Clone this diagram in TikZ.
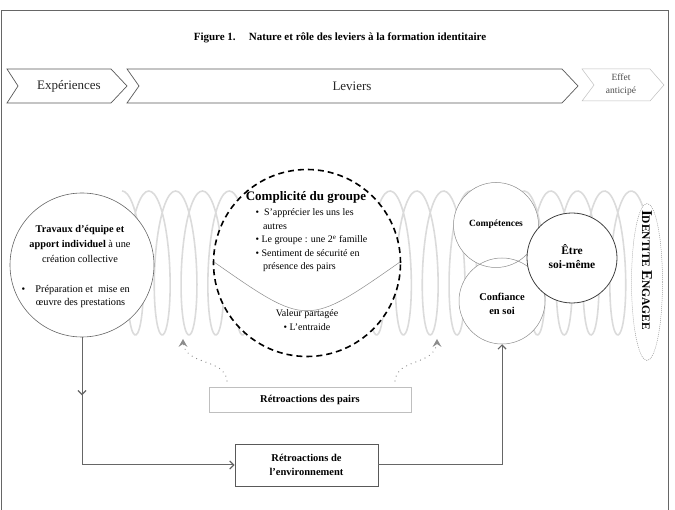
\documentclass[tikz,border=0pt]{standalone}
\usepackage{fontspec}
\setmainfont{Liberation Serif}
\usetikzlibrary{arrows.meta,decorations.markings,shapes.geometric}
\begin{document}
\begin{tikzpicture}[x=1pt,y=-1pt,
  frameline/.style={draw=black!60,line width=0.8pt},
  chevbox/.style={draw=black!65,line width=0.7pt,fill=white},
  chevlight/.style={draw=black!25,line width=0.5pt,fill=white},
  chevtext/.style={font=\fontsize{13}{14}\selectfont,text=black!85},
  springline/.style={draw=black!14,line width=1.6pt},
  bigcirc/.style={circle,draw=black!60,line width=0.6pt,fill=white,inner sep=0pt},
  thincirc/.style={circle,draw=black!45,line width=0.5pt,inner sep=0pt},
  flowline/.style={draw=black!60,line width=1pt},
  flowtip/.style={-{Straight Barb[length=4pt,width=8pt,line width=1.2pt]}},
  dotarrow/.style={draw=black!45,line width=1.3pt,dash pattern=on 0.01pt off 5pt,line cap=round},
  boldtext/.style={font=\bfseries\fontsize{10.5}{15}\selectfont,align=center},
]
\useasboundingbox (0,0) rectangle (675,510);
% frame
\draw[frameline] (1,510) -- (1,10) -- (668,10) -- (668,510);
% title
\node[font=\bfseries\fontsize{11}{12}\selectfont] (title) at (340,38)
  {Figure 1.\hspace{1.2em}Nature et rôle des leviers à la formation identitaire};
% chevrons
\draw[chevbox] (7,69) -- (111,69) -- (127,86) -- (111,103) -- (7,103) -- (18,86) -- cycle;
\draw[chevbox] (127,69) -- (562,69) -- (578,86) -- (562,103) -- (127,103) -- (139,86) -- cycle;
\draw[chevlight] (582,69) -- (650,69) -- (664,85) -- (650,101) -- (582,101) -- (594,85) -- cycle;
\node[chevtext] (exp) at (69,86) {Expériences};
\node[chevtext] (lev) at (352,86) {Leviers};
\node[font=\fontsize{9.5}{13}\selectfont,text=black!70,align=center] (eff) at (621,85) {Effet\\anticipé};
% spring
\draw[springline] plot[domain=0:19.5,samples=800,smooth]
  ({122+26.8*\x+14*sin(\x*360)},{263-72*cos(\x*360)});
% identity ellipse
\node[ellipse,draw=black!40,dashed,dash pattern=on 1pt off 1pt,line width=0.5pt,fill=white,
  minimum width=31pt,minimum height=157pt,inner sep=0pt] (ident) at (647,282) {};
\node[rotate=-90,font=\bfseries] (identtxt) at (647,270)
  {{\fontsize{15}{15}\selectfont I}{\fontsize{11.5}{15}\selectfont DENTITE}
   {\fontsize{15}{15}\selectfont E}{\fontsize{11.5}{15}\selectfont NGAGEE}};
% left circle
\node[bigcirc,minimum size=144pt] (trav) at (82,265) {};
\node[font=\fontsize{10.3}{15}\selectfont,align=center] (travtxt) at (80,244)
  {\textbf{Travaux d’équipe et}\\\textbf{apport individuel} à une\\création collective};
\node[font=\fontsize{10.3}{13}\selectfont,align=left,anchor=west] (travbul) at (18,297)
  {\textbullet\hspace{1em}Préparation et\ \ mise en\\\hspace{1.4em}œuvre des prestations};
% dashed circle
\node[circle,draw=black,line width=1.6pt,dash pattern=on 6pt off 4pt,fill=white,
  minimum size=187pt,inner sep=0pt] (compl) at (307,263) {};
\draw[draw=black!45,line width=0.5pt] (214,262) .. controls (307,327) .. (400,262);
\node[font=\bfseries\fontsize{13}{15}\selectfont] (compltitle) at (306,197) {Complicité du groupe};
\node[font=\fontsize{10}{13.6}\selectfont,align=left,anchor=north west] (complbul) at (252,205)
  {\textbullet\ \ S’apprécier les uns les\\\hspace{0.75em}autres\\
   \textbullet\ Le groupe : une 2\textsuperscript{e} famille\\
   \textbullet\ Sentiment de sécurité en\\\hspace{0.75em}présence des pairs};
\node[font=\fontsize{10}{13.5}\selectfont,align=center] (valeur) at (307,320)
  {Valeur partagée\\\textbullet\ L’entraide};
% right circles
\node[circle,fill=white,minimum size=85pt,inner sep=0pt] (compf) at (496,225) {};
\node[circle,fill=white,minimum size=86pt,inner sep=0pt] (conff) at (502,301) {};
\node[thincirc,minimum size=85pt] (comp) at (496,225) {};
\node[thincirc,minimum size=86pt] (conf) at (502,301) {};
\node[circle,draw=black!75,line width=0.8pt,fill=white,minimum size=90pt,inner sep=0pt] (etre) at (572,258) {};
\node[font=\bfseries\fontsize{9.5}{12}\selectfont] (comptxt) at (496,224) {Compétences};
\node[font=\bfseries\fontsize{10.5}{14}\selectfont,align=center] (conftxt) at (502,304) {Confiance\\en soi};
\node[font=\bfseries\fontsize{11.5}{14}\selectfont,align=center] (etretxt) at (572,257) {Être\\soi-même};
% feedback boxes
\node[draw=black!25,line width=0.6pt,minimum width=202pt,minimum height=25pt,font=\bfseries\fontsize{10.5}{13}\selectfont] (pairs) at (310,399.5) {Rétroactions des pairs};
\node[draw=black!65,line width=0.9pt,minimum width=143pt,minimum height=42pt,boldtext,font=\bfseries\fontsize{10.5}{13.5}\selectfont] (env) at (306.5,465) {Rétroactions de\\l’environnement};
% flow connectors
\draw[flowline,flowtip,postaction={decorate},
  decoration={markings,mark=at position 58pt with {\arrow{Straight Barb[length=4pt,width=8pt,line width=1.2pt]}}}]
  (trav.south) |- (env.west);
\draw[flowline,flowtip] (env.east) -| (conf.south);
% dotted arrows
\coordinate (pl) at (227,381);
\coordinate (pr) at (395,381);
\coordinate (tl) at (183,343);
\coordinate (tr) at (437,343);
\draw[dotarrow] (pl) .. controls (225,358) and (186,366) .. (tl);
\draw[dotarrow] (pr) .. controls (397,358) and (434,366) .. (tr);
\fill[black!45] (tl) ++(0,-4) -- ++(-4.5,8) -- ++(4.5,-3) -- ++(4.5,3) -- cycle;
\fill[black!45] (tr) ++(0,-4) -- ++(-4.5,8) -- ++(4.5,-3) -- ++(4.5,3) -- cycle;
\end{tikzpicture}
\end{document}
